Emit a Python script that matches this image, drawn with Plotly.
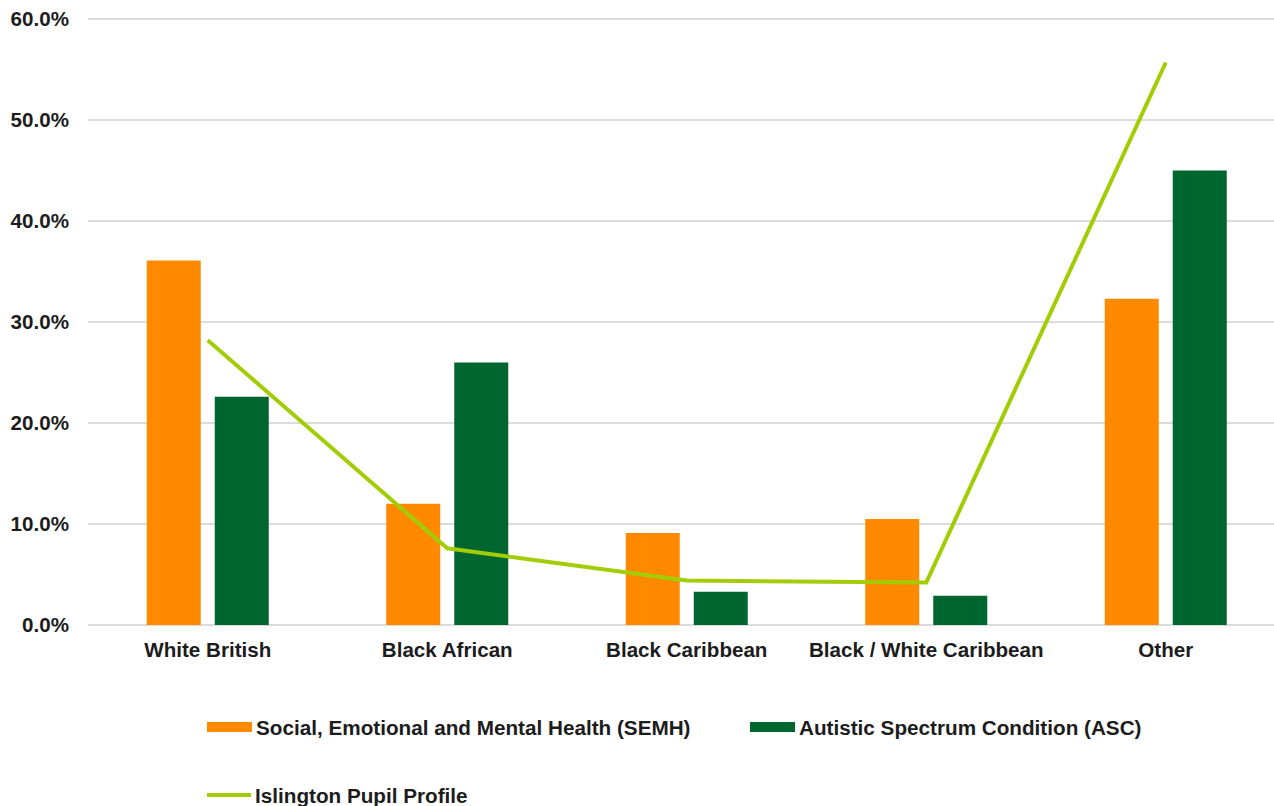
import plotly.graph_objects as go

# Ethnic group breakdown by primary need
categories = ["White British", "Black African", "Black Caribbean",
              "Black / White Caribbean", "Other"]
semh = [0.361, 0.120, 0.091, 0.105, 0.323]
asc = [0.226, 0.260, 0.033, 0.029, 0.450]
pupil_profile = [0.282, 0.076, 0.044, 0.042, 0.557]

series_names = ["Social, Emotional and Mental Health (SEMH)",
                "Autistic Spectrum Condition (ASC)",
                "Islington Pupil Profile"]

ORANGE = "#FF8A00"
GREEN = "#00662F"
LIME = "#A2CD05"
TEXT = "#1c1c1c"
FONT = "Liberation Sans, Arial, sans-serif"

W, H = 1274, 806
ML, MR, MT, MB = 88, 0, 9, 181
PW, PH = W - ML - MR, H - MT - MB


def px(x):
    return (x - ML) / PW


def py(y):
    return (H - MB - y) / PH


fig = go.Figure()
fig.add_trace(go.Bar(x=categories, y=semh, name=series_names[0],
                     marker=dict(color=ORANGE, line=dict(width=0))))
fig.add_trace(go.Bar(x=categories, y=asc, name=series_names[1],
                     marker=dict(color=GREEN, line=dict(width=0))))
fig.add_trace(go.Scatter(x=categories, y=pupil_profile, name=series_names[2],
                         mode="lines", line=dict(color=LIME, width=4)))

# Hand-built legend: two rows below the chart
legend_items = [
    ("bar", ORANGE, 207, 252, 727, series_names[0]),
    ("bar", GREEN, 750, 795, 727, series_names[1]),
    ("line", LIME, 207, 251, 795, series_names[2]),
]
shapes = []
annotations = []
for kind, color, x0, x1, yc, label in legend_items:
    if kind == "bar":
        shapes.append(dict(type="rect", xref="paper", yref="paper",
                           x0=px(x0), x1=px(x1), y0=py(yc - 5), y1=py(yc + 5),
                           fillcolor=color, line=dict(width=0)))
    else:
        shapes.append(dict(type="line", xref="paper", yref="paper",
                           x0=px(x0), x1=px(x1), y0=py(yc), y1=py(yc),
                           line=dict(color=color, width=4)))
    annotations.append(dict(text=label, xref="paper", yref="paper",
                            x=px(x1 + 2), y=py(yc), xanchor="left",
                            yanchor="middle", showarrow=False,
                            font=dict(family=FONT, size=20.7, color=TEXT,
                                      weight="bold")))

fig.update_layout(
    width=W, height=H,
    margin=dict(l=ML, r=MR, t=MT, b=MB, pad=0),
    paper_bgcolor="white", plot_bgcolor="white",
    barmode="group", bargap=0.432, bargroupgap=0.206,
    showlegend=False,
    shapes=shapes, annotations=annotations,
    font=dict(family=FONT, color=TEXT),
)
fig.update_xaxes(
    type="category", range=[-0.5, -0.5 + PW / 239.5],
    showgrid=False, showline=False, zeroline=False, ticks="",
    tickfont=dict(family=FONT, size=20.6, color=TEXT, weight="bold"),
    ticklabelstandoff=10,
)
fig.update_yaxes(
    range=[0, 0.61], tickvals=[0, 0.1, 0.2, 0.3, 0.4, 0.5, 0.6],
    tickformat=".1%", showgrid=True, gridcolor="#DCDCDC", gridwidth=1.5,
    zeroline=True, zerolinecolor="#DCDCDC", zerolinewidth=1.5,
    showline=False, ticks="",
    tickfont=dict(family=FONT, size=20.6, color=TEXT, weight="bold"),
    ticklabelstandoff=18,
)

fig.write_html("out.html")
